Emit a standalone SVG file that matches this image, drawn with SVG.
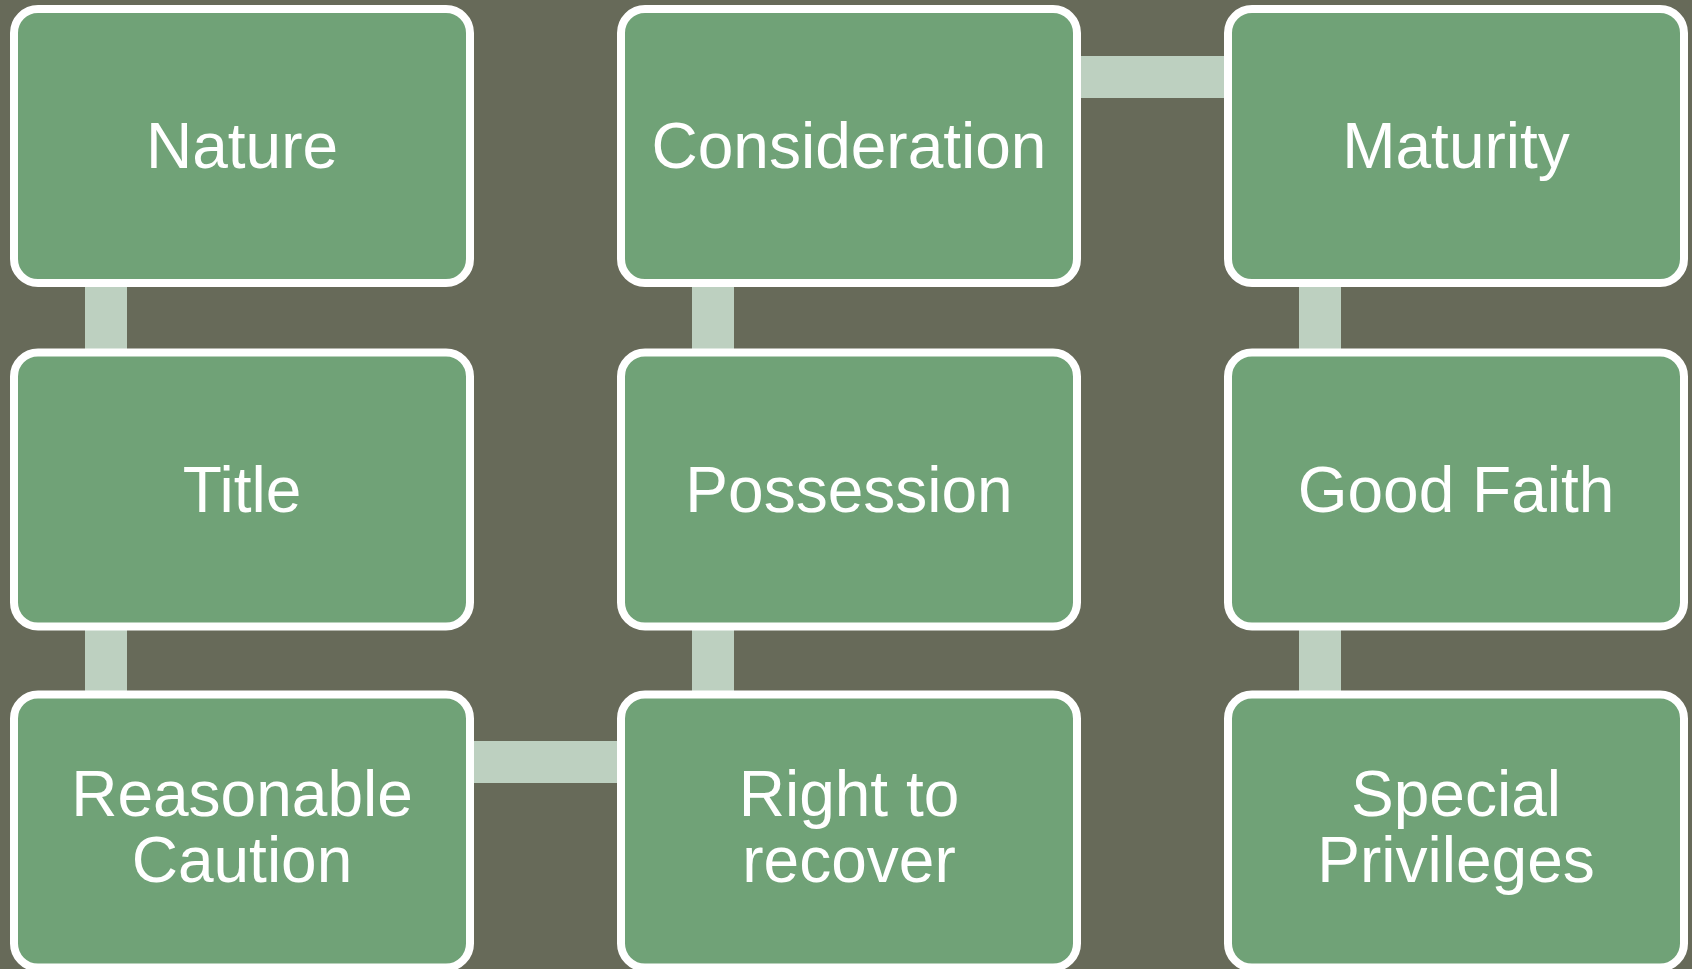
<svg xmlns="http://www.w3.org/2000/svg" width="1692" height="969" viewBox="0 0 1692 969">
<style>
.box{fill:#70a277;stroke:#ffffff;stroke-width:8}
.conn{fill:#bdd0c0}
.lbl{font-family:"Liberation Sans",Arial,sans-serif;font-size:64px;fill:#ffffff;text-anchor:middle}
</style>
<rect x="0" y="0" width="1692" height="969" fill="#676a59"/>
<g id="connectors">
<rect class="conn" x="85" y="270" width="42" height="95"/>
<rect class="conn" x="85" y="613" width="42" height="95"/>
<rect class="conn" x="692" y="270" width="42" height="95"/>
<rect class="conn" x="692" y="613" width="42" height="95"/>
<rect class="conn" x="1299" y="270" width="42" height="95"/>
<rect class="conn" x="1299" y="613" width="42" height="95"/>
<rect class="conn" x="1060" y="56" width="185" height="42"/>
<rect class="conn" x="455" y="741" width="185" height="42"/>
</g>
<g id="nature"><rect class="box" x="14" y="9" width="456" height="274" rx="24"/><text class="lbl" x="242" y="168">Nature</text></g>
<g id="title"><rect class="box" x="14" y="352.5" width="456" height="274" rx="24"/><text class="lbl" x="242" y="511.5">Title</text></g>
<g id="reasonable-caution"><rect class="box" x="14" y="694.5" width="456" height="273" rx="24"/><text class="lbl" x="242" y="816">Reasonable</text><text class="lbl" x="242" y="882">Caution</text></g>
<g id="consideration"><rect class="box" x="621" y="9" width="456" height="274" rx="24"/><text class="lbl" x="849" y="168">Consideration</text></g>
<g id="possession"><rect class="box" x="621" y="352.5" width="456" height="274" rx="24"/><text class="lbl" x="849" y="511.5">Possession</text></g>
<g id="right-to-recover"><rect class="box" x="621" y="694.5" width="456" height="273" rx="24"/><text class="lbl" x="849" y="816">Right to</text><text class="lbl" x="849" y="882">recover</text></g>
<g id="maturity"><rect class="box" x="1228" y="9" width="456" height="274" rx="24"/><text class="lbl" x="1456" y="168">Maturity</text></g>
<g id="good-faith"><rect class="box" x="1228" y="352.5" width="456" height="274" rx="24"/><text class="lbl" x="1456" y="511.5">Good Faith</text></g>
<g id="special-privileges"><rect class="box" x="1228" y="694.5" width="456" height="273" rx="24"/><text class="lbl" x="1456" y="816">Special</text><text class="lbl" x="1456" y="882">Privileges</text></g>
</svg>
